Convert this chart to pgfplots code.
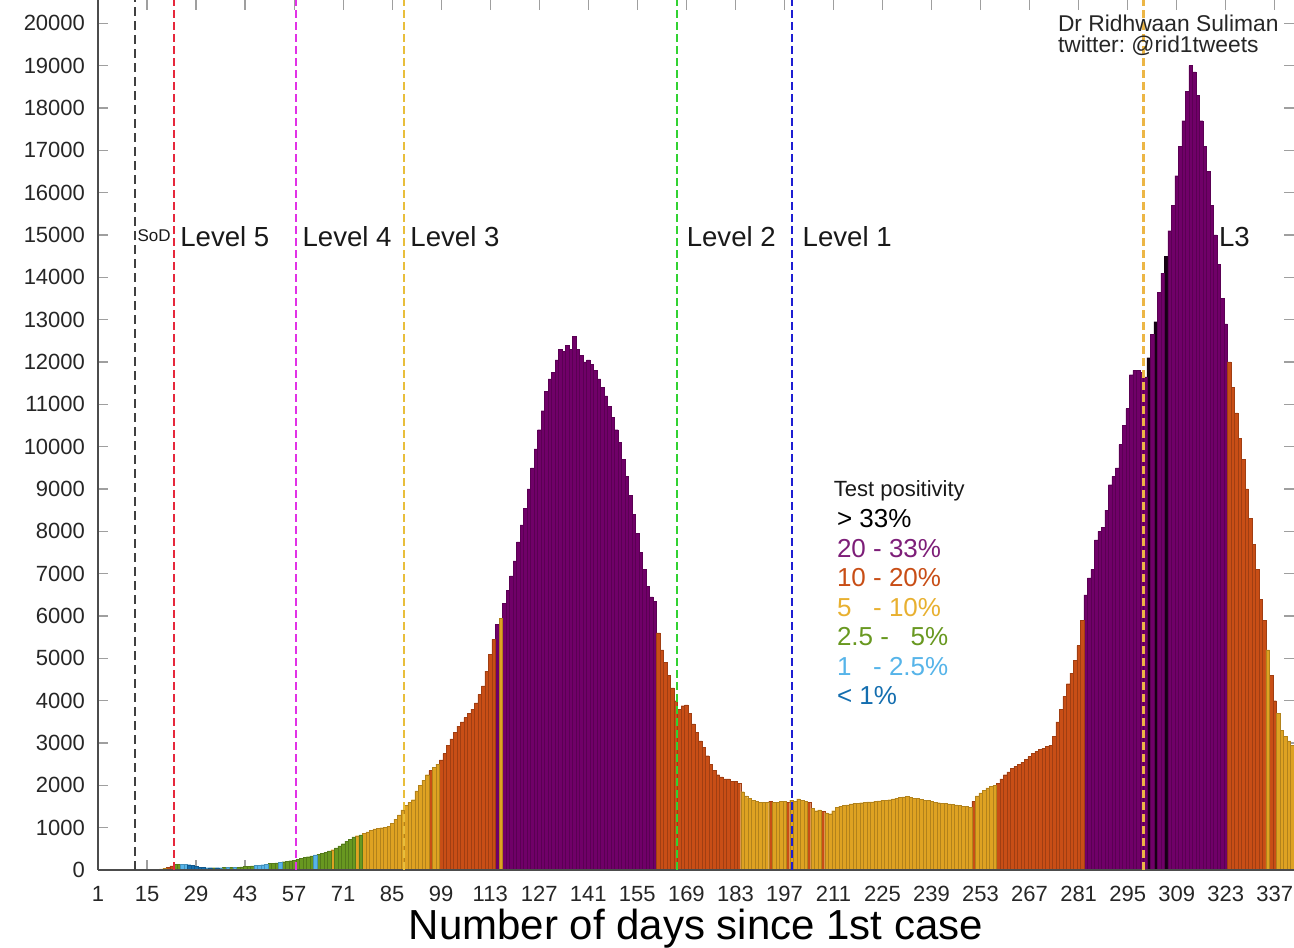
\documentclass[border=0pt]{standalone}
\usepackage{fontspec}
\setmainfont{Liberation Sans}
\usepackage{pgfplots}
\usepackage{pgfplotstable}
\pgfplotsset{compat=1.18}

\definecolor{cBlack}{RGB}{22,0,20}
\definecolor{cPurple}{RGB}{112,0,104}
\definecolor{cOrange}{RGB}{200,78,22}
\definecolor{cGold}{RGB}{222,162,34}
\definecolor{cGreen}{RGB}{104,152,32}
\definecolor{cLBlue}{RGB}{86,180,233}
\definecolor{cBlue}{RGB}{20,110,175}
\definecolor{lnRed}{RGB}{230,40,60}
\definecolor{lnMag}{RGB}{225,50,230}
\definecolor{lnGold}{RGB}{232,190,60}
\definecolor{lnGreen}{RGB}{50,210,50}
\definecolor{lnBlue}{RGB}{30,30,210}
\definecolor{lnL3}{RGB}{236,182,70}
\definecolor{legGold}{RGB}{232,176,48}
\definecolor{legPurple}{RGB}{125,30,120}

% day, 7-day cases, test positivity class (0 >33%, 1 20-33, 2 10-20, 3 5-10, 4 2.5-5, 5 1-2.5, 6 <1)
\pgfplotstableread{
d v c
15 5 3
16 8 3
17 10 3
18 15 3
19 25 3
20 40 3
21 60 2
22 100 2
23 130 4
24 140 4
25 135 5
26 130 5
27 125 6
28 110 6
29 90 6
30 70 6
31 60 6
32 55 5
33 55 6
34 55 4
35 55 6
36 55 5
37 60 4
38 60 5
39 65 4
40 65 5
41 70 4
42 75 4
43 80 4
44 85 4
45 95 4
46 105 5
47 115 5
48 125 5
49 140 5
50 150 4
51 160 4
52 170 4
53 185 5
54 195 4
55 205 4
56 220 4
57 235 4
58 255 4
59 275 4
60 295 4
61 315 4
62 335 4
63 355 5
64 375 4
65 400 4
66 425 4
67 450 4
68 480 3
69 520 4
70 570 4
71 620 4
72 680 4
73 730 4
74 780 4
75 810 3
76 830 4
77 860 3
78 900 3
79 940 3
80 970 3
81 990 3
82 1000 3
83 1010 3
84 1030 3
85 1100 3
86 1200 3
87 1300 3
88 1420 3
89 1520 3
90 1600 3
91 1660 3
92 1870 3
93 2000 3
94 2120 3
95 2250 3
96 2350 2
97 2430 3
98 2500 3
99 2600 2
100 2750 2
101 2950 2
102 3100 2
103 3250 2
104 3400 2
105 3500 2
106 3600 2
107 3700 2
108 3800 2
109 3950 2
110 4150 2
111 4350 2
112 4700 2
113 5100 2
114 5450 2
115 5800 1
116 5950 3
117 6300 1
118 6600 1
119 6950 1
120 7300 1
121 7750 1
122 8150 1
123 8550 1
124 9000 1
125 9500 1
126 9950 1
127 10400 1
128 10850 1
129 11300 1
130 11600 1
131 11750 1
132 12050 1
133 12300 1
134 12250 1
135 12400 1
136 12300 1
137 12600 1
138 12300 1
139 12150 1
140 12000 1
141 12050 1
142 11950 1
143 11800 1
144 11600 1
145 11400 1
146 11200 1
147 10950 1
148 10700 1
149 10400 1
150 10100 1
151 9700 1
152 9300 1
153 8850 1
154 8400 1
155 7950 1
156 7500 1
157 7100 1
158 6700 1
159 6450 1
160 6350 1
161 5600 2
162 5200 2
163 4900 2
164 4600 2
165 4300 2
166 4000 2
167 3800 2
168 3880 2
169 3900 2
170 3700 2
171 3450 2
172 3250 2
173 3050 2
174 2900 2
175 2700 2
176 2500 2
177 2350 2
178 2250 2
179 2200 2
180 2150 2
181 2150 2
182 2100 2
183 2100 2
184 2050 2
185 1850 3
186 1750 3
187 1700 3
188 1650 3
189 1620 3
190 1600 3
191 1600 3
192 1600 3
193 1620 2
194 1600 3
195 1600 3
196 1620 3
197 1620 3
198 1600 2
199 1650 3
200 1620 3
201 1680 3
202 1650 3
203 1620 3
204 1600 2
205 1450 3
206 1400 3
207 1420 3
208 1380 2
209 1350 3
210 1330 3
211 1400 3
212 1480 3
213 1500 3
214 1520 3
215 1540 3
216 1560 3
217 1570 3
218 1580 3
219 1590 3
220 1600 3
221 1610 3
222 1610 3
223 1620 3
224 1630 3
225 1640 3
226 1650 3
227 1660 3
228 1680 3
229 1700 3
230 1720 3
231 1730 3
232 1740 3
233 1720 3
234 1700 3
235 1690 3
236 1670 3
237 1650 3
238 1640 3
239 1620 3
240 1600 3
241 1590 3
242 1580 3
243 1570 3
244 1560 3
245 1550 3
246 1540 3
247 1530 3
248 1510 3
249 1500 3
250 1480 3
251 1620 2
252 1750 3
253 1820 3
254 1880 3
255 1940 3
256 1980 3
257 2000 3
258 2050 2
259 2150 2
260 2250 2
261 2320 2
262 2400 2
263 2450 2
264 2500 2
265 2550 2
266 2620 2
267 2680 2
268 2750 2
269 2800 2
270 2850 2
271 2880 2
272 2920 2
273 2950 2
274 3150 2
275 3500 2
276 3800 2
277 4100 2
278 4400 2
279 4650 2
280 4950 2
281 5300 2
282 5900 2
283 6500 1
284 6900 1
285 7100 1
286 7800 1
287 8000 1
288 8100 1
289 8500 1
290 9100 1
291 9300 1
292 9500 1
293 10050 1
294 10500 1
295 10900 1
296 11700 1
297 11800 1
298 11800 1
299 11750 1
300 11650 1
301 12100 0
302 12650 1
303 12950 0
304 13650 1
305 14100 1
306 14500 0
307 15100 1
308 15700 1
309 16400 1
310 17100 1
311 17700 1
312 18400 1
313 19000 1
314 18850 1
315 18300 1
316 17700 1
317 17100 1
318 16500 1
319 15700 1
320 15000 1
321 14300 1
322 13500 1
323 12900 1
324 12000 2
325 11400 2
326 10800 2
327 10200 2
328 9700 2
329 9000 2
330 8300 2
331 7700 2
332 7100 2
333 6400 2
334 5900 2
335 5200 3
336 4600 2
337 4000 2
338 3700 3
339 3300 3
340 3150 3
341 3050 3
342 2950 3
}\daily

\pgfplotsset{
  catbar/.style 2 args={ybar, bar width=1, bar shift=0pt,
    fill=#1, draw=#1!80!black, line width=0.15pt,
    restrict expr to domain={\thisrow{c}}{#2:#2}},
}

\begin{document}
\frenchspacing
\begin{tikzpicture}
\begin{axis}[
  scale only axis, width=598pt, height=435pt,
  xmin=1, xmax=342.5, ymin=0, ymax=20550,
  clip=false,
  scaled y ticks=false, scaled x ticks=false,
  xtick={1,15,...,337}, ytick={0,1000,...,20000},
  tick align=inside, major tick length=5pt,
  tick style={gray!75, line width=0.6pt},
  axis line style={draw=none},
  ticklabel style={font=\fontsize{11}{13}\selectfont, text=black!85},
  /pgf/number format/assume math mode=true,
  /pgf/number format/1000 sep={},
  xticklabel style={anchor=base, yshift=-16pt},
  yticklabel style={anchor=east, xshift=-3pt},
  xlabel={Number of days since 1st case},
  xlabel style={font=\fontsize{21}{23}\selectfont, at={(axis description cs:0.5,0)}, anchor=base, yshift=-35pt},
]
\addplot[catbar={cBlack}{0}] table[x=d, y=v] {\daily};
\addplot[catbar={cPurple}{1}] table[x=d, y=v] {\daily};
\addplot[catbar={cOrange}{2}] table[x=d, y=v] {\daily};
\addplot[catbar={cGold}{3}] table[x=d, y=v] {\daily};
\addplot[catbar={cGreen}{4}] table[x=d, y=v] {\daily};
\addplot[catbar={cLBlue}{5}] table[x=d, y=v] {\daily};
\addplot[catbar={cBlue}{6}] table[x=d, y=v] {\daily};

% axis lines (left and bottom only)
\draw[black!70, line width=0.9pt] (rel axis cs:0,0) -- (rel axis cs:0,1);
\draw[black!70, line width=0.9pt] (rel axis cs:0,0) -- (rel axis cs:1,0);

% level lines
\draw[black!75, line width=1pt, dash pattern=on 4.5pt off 2.5pt] (11.7,0) -- (11.7,20550);
\draw[lnRed, line width=0.9pt, dash pattern=on 4pt off 2pt] (22.7,0) -- (22.7,20550);
\draw[lnMag, line width=0.9pt, dash pattern=on 4pt off 2pt] (57.6,0) -- (57.6,20550);
\draw[lnGold, line width=0.8pt, dash pattern=on 4pt off 2pt] (88.4,0) -- (88.4,20550);
\draw[lnGreen, line width=0.9pt, dash pattern=on 4pt off 2pt] (166.4,0) -- (166.4,20550);
\draw[lnBlue, line width=1pt, dash pattern=on 4pt off 2pt] (199.3,0) -- (199.3,20550);
\draw[lnL3, line width=1.6pt, dash pattern=on 4pt off 2pt] (299.6,0) -- (299.6,20550);

% level labels
\begin{scope}[every node/.style={inner sep=0pt, anchor=base west, text=black!90}]
\node[font=\fontsize{8.5}{10}\selectfont] at (12.2,14846) {SoD};
\node[font=\fontsize{13.8}{16}\selectfont] at (24.4,14728) {Level 5};
\node[font=\fontsize{13.8}{16}\selectfont] at (59.3,14728) {Level 4};
\node[font=\fontsize{13.8}{16}\selectfont] at (90.1,14728) {Level 3};
\node[font=\fontsize{13.8}{16}\selectfont] at (169.0,14728) {Level 2};
\node[font=\fontsize{13.8}{16}\selectfont] at (202.1,14728) {Level 1};
\node[font=\fontsize{13.8}{16}\selectfont] at (321.0,14728) {L3};
% author
\node[font=\fontsize{11.4}{13}\selectfont, text=black!85] at (275,19797) {Dr Ridhwaan Suliman};
\node[font=\fontsize{11.4}{13}\selectfont, text=black!85] at (275,19301) {twitter: @rid1tweets};
% legend
\node[font=\fontsize{11}{13}\selectfont] at (211,8812) {Test positivity};
\node[font=\fontsize{13}{15}\selectfont, text=black] at (211.9,8080) {> 33\%};
\node[font=\fontsize{13}{15}\selectfont, text=legPurple] at (211.9,7383) {20 - 33\%};
\node[font=\fontsize{13}{15}\selectfont, text=cOrange] at (211.9,6686) {10 - 20\%};
\node[font=\fontsize{13}{15}\selectfont, text=legGold] at (211.9,5989) {5\phantom{0} - 10\%};
\node[font=\fontsize{13}{15}\selectfont, text=cGreen] at (211.9,5292) {2.5 - \phantom{1}5\%};
\node[font=\fontsize{13}{15}\selectfont, text=cLBlue] at (211.9,4595) {1\phantom{0} - 2.5\%};
\node[font=\fontsize{13}{15}\selectfont, text=cBlue] at (211.9,3898) {< 1\%};
\end{scope}
\end{axis}
\pgfresetboundingbox
\path[use as bounding box] ([xshift=-49pt, yshift=-39pt]current axis.south west) rectangle (current axis.north east);
\end{tikzpicture}
\end{document}
